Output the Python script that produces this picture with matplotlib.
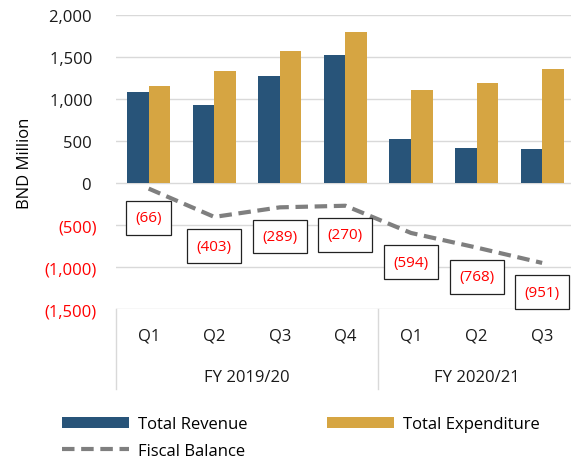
# Fiscal position chart: revenue vs expenditure with fiscal balance line

import matplotlib.pyplot as plt
from matplotlib.ticker import FuncFormatter
from matplotlib.transforms import blended_transform_factory

plt.rcParams['font.family'] = ['Open Sans', 'DejaVu Sans']

quarters = ['Q1', 'Q2', 'Q3', 'Q4', 'Q1', 'Q2', 'Q3']
fiscal_years = ['FY 2019/20', 'FY 2020/21']
fy_sizes = [4, 3]
revenue = [1085, 935, 1280, 1530, 520, 420, 405]        # BND million
expenditure = [1155, 1340, 1570, 1800, 1110, 1190, 1355]
balance = [-66, -403, -289, -270, -594, -768, -951]

rev_color = '#285479'
exp_color = '#d6a542'
bal_color = '#7f7f7f'

fig = plt.figure(figsize=(5.71, 4.6), dpi=100)
ax = fig.add_axes([0.203, 0.326, 0.797, 0.639])

x = list(range(len(quarters)))
w = 0.33
b1 = ax.bar([i - w / 2 for i in x], revenue, w, color=rev_color, label='Total Revenue', zorder=3)
b2 = ax.bar([i + w / 2 for i in x], expenditure, w, color=exp_color, label='Total Expenditure', zorder=3)
l1, = ax.plot(x, balance, color=bal_color, lw=3, dashes=(3, 1.6), label='Fiscal Balance', zorder=4)

# boxed data labels under the balance line
for i, v in zip(x, balance):
    ax.annotate(f'({abs(v):,})', (i, v), xytext=(0, -21), textcoords='offset points',
                ha='center', va='center', color='#ff0000', fontsize=11,
                bbox=dict(boxstyle='square,pad=0.62', fc='white', ec='#222222', lw=0.9),
                zorder=5)

ax.set_xlim(-0.5, 6.44)
ax.set_ylim(-1500, 2000)
ax.set_yticks(range(-1500, 2001, 500))
ax.yaxis.set_major_formatter(FuncFormatter(lambda v, p: f'({abs(v):,.0f})' if v < 0 else f'{v:,.0f} '))
for lbl, v in zip(ax.get_yticklabels(), ax.get_yticks()):
    lbl.set_color('#ff0000' if v < 0 else '#1a1a1a')
ax.tick_params(axis='y', length=0, labelsize=12, pad=14)
ax.tick_params(axis='x', length=0, labelbottom=False)
ax.grid(axis='y', color='#d9d9d9', lw=1, zorder=0)
for s in ax.spines.values():
    s.set_visible(False)
ax.set_ylabel('BND Million', fontsize=12, labelpad=8)

# two-level category axis
tr = blended_transform_factory(ax.transData, ax.transAxes)
for i, q in zip(x, quarters):
    ax.text(i, -0.09, q, transform=tr, ha='center', va='center', fontsize=12, color='#1a1a1a')
start = 0
bounds = [-0.5]
for fy, n in zip(fiscal_years, fy_sizes):
    mid = start + (n - 1) / 2
    ax.text(mid, -0.232, fy, transform=tr, ha='center', va='center', fontsize=12, color='#1a1a1a')
    start += n
    bounds.append(start - 0.5)
for b in bounds:
    ax.plot([b, b], [0, -0.272], transform=tr, color='#d9d9d9', lw=1, clip_on=False)

fig.legend([b1, l1, b2], ['Total Revenue', 'Fiscal Balance', 'Total Expenditure'],
           loc='upper left', bbox_to_anchor=(0.097, 0.108), ncol=2, frameon=False,
           fontsize=12, handlelength=4.0, handleheight=0.66, columnspacing=4.8,
           labelspacing=0.66, handletextpad=0.55, borderaxespad=0)

fig.savefig('out.png', dpi=100)
